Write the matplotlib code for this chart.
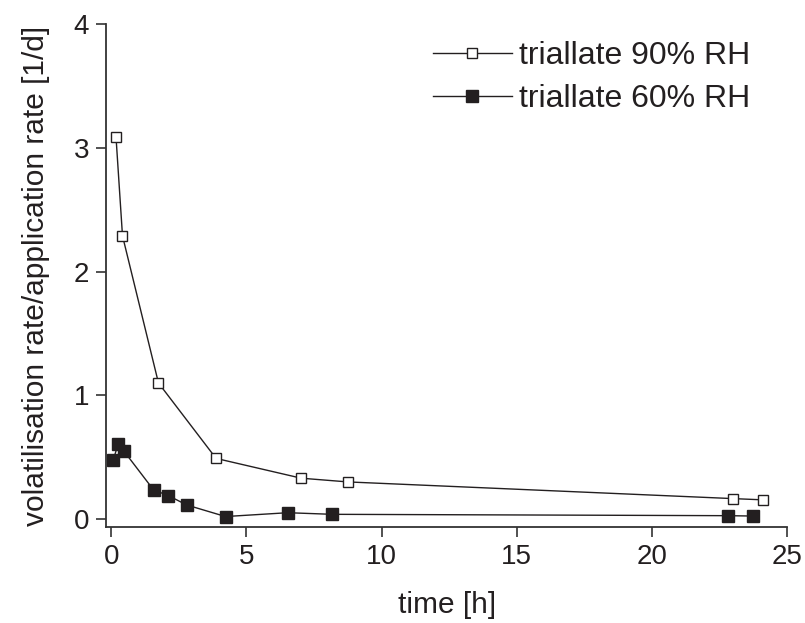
import matplotlib
matplotlib.use('Agg')
import matplotlib.pyplot as plt

plt.rcParams['font.family'] = ['Liberation Sans', 'DejaVu Sans']

# triallate 90% RH
time_90 = [0.18, 0.42, 1.75, 3.88, 7.03, 8.75, 23.0, 24.1]
rate_90 = [3.09, 2.29, 1.10, 0.49, 0.33, 0.30, 0.165, 0.155]

# triallate 60% RH
time_60 = [0.08, 0.26, 0.47, 1.57, 2.11, 2.80, 4.23, 6.53, 8.17, 22.8, 23.75]
rate_60 = [0.48, 0.605, 0.55, 0.235, 0.19, 0.113, 0.02, 0.051, 0.038, 0.027, 0.024]

ink = '#231f20'

fig = plt.figure(figsize=(8.05, 6.23), dpi=100)
ax = fig.add_axes([0.132, 0.154, 0.846, 0.807])

ax.plot(time_90, rate_90, color=ink, lw=1.0, marker='s', ms=7.5,
        mfc='white', mec=ink, mew=1.0, label='triallate 90% RH')
ax.plot(time_60, rate_60, color=ink, lw=1.0, marker='s', ms=8,
        mfc=ink, mec=ink, mew=1.0, label='triallate 60% RH')

ax.set_xlim(-0.18, 25)
ax.set_ylim(-0.065, 4)
ax.set_xticks([0, 5, 10, 15, 20, 25])
ax.set_yticks([0, 1, 2, 3, 4])

for s in ['top', 'right']:
    ax.spines[s].set_visible(False)
for s in ['left', 'bottom']:
    ax.spines[s].set_linewidth(1.3)
    ax.spines[s].set_color('#333333')
ax.tick_params(direction='out', length=7, width=1.2, color='#333333',
               labelsize=20, labelcolor=ink)
ax.tick_params(axis='x', pad=5)
ax.tick_params(axis='y', pad=5.5)

ax.set_xlabel('time [h]', fontsize=21.5, labelpad=15, color=ink)
ax.set_ylabel('volatilisation rate/application rate [1/d]', fontsize=21.5,
              labelpad=17, color=ink)

leg = ax.legend(loc='upper right', frameon=False, fontsize=23, handlelength=2.45,
                handletextpad=0.22, labelspacing=0.42, borderaxespad=0.0,
                borderpad=0.0, bbox_to_anchor=(0.945, 0.967))
for t in leg.get_texts():
    t.set_color(ink)

fig.savefig('out.png', dpi=100)
